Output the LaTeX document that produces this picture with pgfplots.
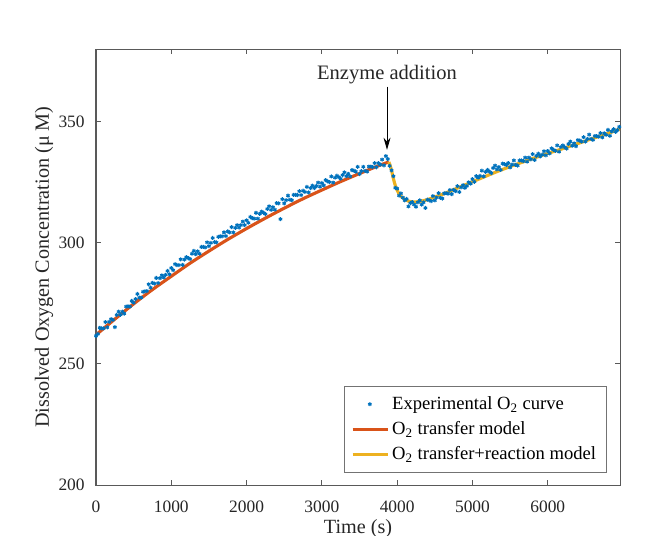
\documentclass[border=0pt]{standalone}
\usepackage{fontspec}
\setmainfont{Liberation Serif}
\usepackage{pgfplots}
\pgfplotsset{compat=1.18}
\usetikzlibrary{arrows.meta}

\definecolor{mblue}{RGB}{0,114,189}
\definecolor{mred}{RGB}{217,83,25}
\definecolor{myellow}{RGB}{237,177,32}

\begin{document}
\begin{tikzpicture}
% page = whole 671x535 px figure, 1 px = 0.575pt, axis box at the origin
\path[use as bounding box] (-55.2pt,-28.75pt) rectangle (330.6pt,278.9pt);
\begin{axis}[
    at={(0,0)}, anchor=south west,
    scale only axis, width=301.3pt, height=250.7pt,
    xmin=0, xmax=6960, ymin=200, ymax=380,
    xtick={0,1000,...,6000}, ytick={200,250,300,350},
    scaled x ticks=false,
    /pgf/number format/1000 sep={},
    /pgf/number format/assume math mode=true,
    tick align=inside, major tick length=3pt,
    axis line style={draw=black!65, line width=0.6pt},
    tick style={draw=black!65, line width=0.6pt},
    ticklabel style={font=\fontsize{10}{12}\selectfont, text=black!85},
    xticklabel style={yshift=-5.8pt},
    yticklabel style={xshift=-3pt},
    xlabel={Time (s)},
    ylabel={Dissolved Oxygen Concentration (μ M)},
    label style={font=\fontsize{11.6}{13}\selectfont, text=black!85},
    xlabel style={at={(axis description cs:0.5,-0.100)}, anchor=center},
    ylabel style={at={(axis description cs:-0.099,0.5)}, anchor=center, rotate=0},
    legend style={at={(axis description cs:0.975,0.0275)}, anchor=south east,
        draw=black!55, line width=0.5pt, fill=white,
        font=\fontsize{10.7}{12}\selectfont, row sep=1.4pt,
        inner xsep=4pt, inner ysep=4pt},
    legend cell align=left,
    legend image code/.code={\draw[mark repeat=2,mark phase=2] plot coordinates {(0cm,0cm) (0.35cm,0cm) (0.7cm,0cm)};},
]
% measured O2 (every 25 s)
\addplot[only marks, mark=asterisk, mark size=1.15pt, color=mblue, line width=0.6pt] coordinates {
(0,261.6) (25,262.4) (50,264.9) (75,264.7) (100,264.7) (125,267.3) (150,265.1) (175,267.4) (200,268.5) (225,268.2)
(250,265.2) (275,270.2) (300,271.6) (325,270.3) (350,271.6) (375,270.8) (400,273.7) (425,273.8) (450,273.7) (475,276.0)
(500,275.3) (525,276.8) (550,278.9) (575,277.4) (600,277.4) (625,279.8) (650,280.0) (675,280.1) (700,282.9) (725,281.5)
(750,283.5) (775,283.2) (800,285.5) (825,283.4) (850,285.4) (875,286.6) (900,285.7) (925,286.8) (950,288.4) (975,287.0)
(1000,289.6) (1025,288.7) (1050,291.2) (1075,290.8) (1100,290.8) (1125,293.2) (1150,290.9) (1175,293.1) (1200,294.1) (1225,293.7)
(1250,293.3) (1275,295.5) (1300,296.7) (1325,295.3) (1350,296.5) (1375,295.5) (1400,298.3) (1425,298.3) (1450,298.1) (1475,300.2)
(1500,298.6) (1525,300.0) (1550,302.0) (1575,300.3) (1600,300.2) (1625,302.5) (1650,302.7) (1675,302.7) (1700,304.3) (1725,302.8)
(1750,304.7) (1775,304.3) (1800,306.5) (1825,304.3) (1850,306.2) (1875,307.3) (1900,306.3) (1925,307.3) (1950,308.8) (1975,307.3)
(2000,309.3) (2025,308.3) (2050,310.7) (2075,310.2) (2100,310.0) (2125,312.4) (2150,310.0) (2175,312.0) (2200,312.9) (2225,312.4)
(2250,311.9) (2275,314.0) (2300,315.1) (2325,313.6) (2350,314.7) (2375,313.7) (2400,316.4) (2425,316.3) (2450,309.8) (2475,318.0)
(2500,316.3) (2525,317.6) (2550,319.5) (2575,317.8) (2600,317.6) (2625,319.8) (2650,319.8) (2675,319.7) (2700,321.3) (2725,319.7)
(2750,321.5) (2775,321.0) (2800,323.1) (2825,320.8) (2850,322.6) (2875,323.6) (2900,322.6) (2925,323.4) (2950,324.9) (2975,323.2)
(3000,324.7) (3025,323.7) (3050,325.9) (3075,325.4) (3100,325.1) (3125,327.4) (3150,324.9) (3175,326.9) (3200,327.7) (3225,327.1)
(3250,326.5) (3275,328.0) (3300,329.1) (3325,327.5) (3350,328.5) (3375,327.4) (3400,330.0) (3425,329.8) (3450,329.4) (3475,331.4)
(3500,328.4) (3525,329.6) (3550,331.4) (3575,329.7) (3600,329.4) (3625,331.5) (3650,331.5) (3675,331.3) (3700,332.9) (3725,331.2)
(3750,332.9) (3775,332.3) (3800,334.4) (3825,332.0) (3850,335.8) (3875,334.6)
(3900,331.8) (3925,329.9) (3950,327.5) (3975,322.7) (4000,322.4) (4025,319.5) (4050,320.4) (4075,318.7) (4100,317.5) (4125,318.1)
(4150,315.0) (4175,316.4) (4200,316.8) (4225,315.8) (4250,314.9) (4275,316.7) (4300,317.5) (4325,315.8) (4350,316.7) (4375,314.4)
(4400,317.8) (4425,317.6) (4450,317.2) (4475,319.3) (4500,317.5) (4525,318.7) (4550,320.5) (4575,318.6) (4600,318.3) (4625,320.4)
(4650,320.5) (4675,320.3) (4700,321.8) (4725,320.1) (4750,321.9) (4775,321.3) (4800,323.4) (4825,321.0) (4850,322.9) (4875,323.8)
(4900,322.7) (4925,323.5) (4950,325.0) (4975,324.4) (5000,326.3) (5025,325.2) (5050,327.5) (5075,326.9) (5100,327.6) (5125,329.8)
(5150,327.4) (5175,329.3) (5200,330.1) (5225,329.4) (5250,328.8) (5275,330.9) (5300,331.9) (5325,330.3) (5350,331.3) (5375,330.1)
(5400,332.7) (5425,332.5) (5450,332.1) (5475,332.9) (5500,331.1) (5525,332.3) (5550,334.0) (5575,332.2) (5600,331.9) (5625,334.0)
(5650,334.0) (5675,333.7) (5700,335.2) (5725,333.5) (5750,335.2) (5775,334.5) (5800,336.6) (5825,334.2) (5850,335.9) (5875,336.8)
(5900,335.7) (5925,336.4) (5950,337.8) (5975,336.1) (6000,337.9) (6025,336.9) (6050,339.0) (6075,338.4) (6100,338.0) (6125,340.2)
(6150,337.6) (6175,339.5) (6200,340.2) (6225,339.5) (6250,338.9) (6275,340.8) (6300,341.8) (6325,340.1) (6350,341.1) (6375,339.9)
(6400,342.4) (6425,342.2) (6450,341.8) (6475,343.6) (6500,341.8) (6525,342.9) (6550,344.7) (6575,342.9) (6600,342.5) (6625,344.1)
(6650,344.1) (6675,343.8) (6700,345.3) (6725,343.5) (6750,345.2) (6775,344.6) (6800,346.6) (6825,344.2) (6850,346.0) (6875,346.9)
(6900,345.8) (6925,346.5) (6950,347.9)
};
\addlegendentry{Experimental O\textsubscript{2} curve}
% transfer model, before enzyme addition
\addplot[color=mred, line width=1.8pt, smooth] coordinates {
(0,262.0) (250,268.5) (500,274.8) (750,280.7) (1000,286.2) (1250,291.6) (1500,296.6) (1750,301.4) (2000,305.9)
(2250,310.2) (2500,314.3) (2750,318.2) (3000,321.8) (3250,325.3) (3500,328.6) (3750,331.8) (3890,333.4)
};
\addlegendentry{O\textsubscript{2} transfer model}
% transfer + reaction model, after enzyme addition
\addplot[color=myellow, line width=1.8pt, smooth] coordinates {
(3890,333.4) (3920,330.5) (3950,326.5) (3980,323.2) (4020,320.5) (4060,318.9) (4100,317.9) (4150,317.2)
(4200,316.9) (4250,316.9) (4300,317.1) (4400,317.8) (4500,318.9) (4600,320.0) (4700,321.3) (4800,322.6)
(4900,323.9) (5000,325.2) (5200,327.8) (5400,330.3) (5600,332.6) (5800,334.8) (6000,336.9) (6200,338.9)
(6400,341.0) (6600,343.1) (6800,345.2) (6960,347.0)
};
\addlegendentry{O\textsubscript{2} transfer+reaction model}
\node[font=\fontsize{11.8}{13}\selectfont, text=black!85] at (axis cs:3865,369.4) {Enzyme addition};
\draw[-{Stealth[length=7pt,width=4pt]}, line width=0.5pt] (axis cs:3865,364.5) -- (axis cs:3865,338.4);
\end{axis}
\end{tikzpicture}
\end{document}
